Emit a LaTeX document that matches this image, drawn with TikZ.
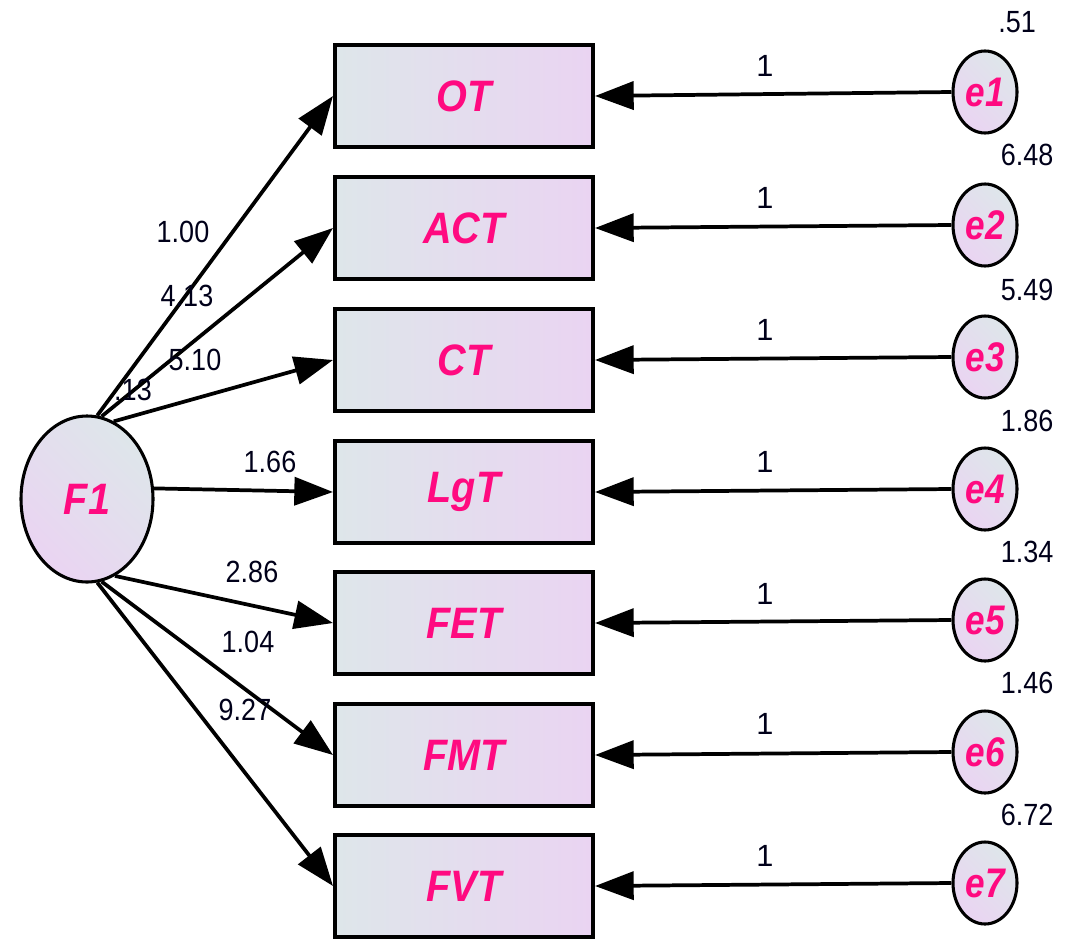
\documentclass[tikz,border=0pt]{standalone}
\usepackage{fontspec}
\setmainfont{Liberation Sans}
\usetikzlibrary{arrows.meta,shapes.geometric}
\definecolor{lbl}{HTML}{FF0A80}
\definecolor{fillL}{HTML}{DEE6EA}
\definecolor{fillR}{HTML}{EAD4F2}
\tikzset{
  obs/.style={draw=black, line width=3pt, minimum width=193.5pt, minimum height=76pt,
    left color=fillL, right color=fillR, inner sep=0pt,
    font=\fontsize{33}{33}\selectfont\bfseries\itshape, text=lbl},
  latent/.style={ellipse, draw=black, line width=2.3pt, minimum width=99pt, minimum height=124.5pt,
    inner sep=0pt, shading=axis, left color=fillL, right color=fillR, shading angle=-45,
    font=\fontsize{33}{33}\selectfont\bfseries\itshape, text=lbl},
  err/.style={ellipse, draw=black, line width=2.3pt, minimum width=48pt, minimum height=61.5pt,
    inner sep=0pt, shading=axis, left color=fillL, right color=fillR, shading angle=-45,
    font=\fontsize{31}{31}\selectfont\bfseries\itshape, text=lbl},
  num/.style={inner sep=0pt, font=\fontsize{23}{23}\selectfont, text=black!90!blue},
  arr/.style={line width=2.8pt, -{Triangle[length=29pt,width=21pt]}}
}
\begin{document}
\begin{tikzpicture}[x=0.75pt,y=-0.75pt]
\useasboundingbox (0,0) rectangle (1077,939);
% observed variables
\node[obs] (OT)  at (464,96)  {\scalebox{0.9}[1]{OT}};
\node[obs] (ACT) at (464,228) {\scalebox{0.9}[1]{ACT}};
\node[obs] (CT)  at (464,360) {\scalebox{0.9}[1]{CT}};
\node[obs] (LgT) at (464,492) {\scalebox{0.9}[1]{LgT}};
\node[obs] (FET) at (464,623) {\scalebox{0.9}[1]{FET}};
\node[obs] (FMT) at (464,755) {\scalebox{0.9}[1]{FMT}};
\node[obs] (FVT) at (464,886) {\scalebox{0.9}[1]{FVT}};
% latent
\node[latent] (F1) at (87,499) {\scalebox{0.9}[1]{F1}};
% errors
\node[err] (e1) at (985,92)  {\scalebox{0.85}[1]{e1}};
\node[err] (e2) at (985,225) {\scalebox{0.85}[1]{e2}};
\node[err] (e3) at (985,357) {\scalebox{0.85}[1]{e3}};
\node[err] (e4) at (985,489) {\scalebox{0.85}[1]{e4}};
\node[err] (e5) at (985,620) {\scalebox{0.85}[1]{e5}};
\node[err] (e6) at (985,752) {\scalebox{0.85}[1]{e6}};
\node[err] (e7) at (985,883) {\scalebox{0.85}[1]{e7}};
% loadings
\draw[arr] (F1.83)  -- (OT.west);
\draw[arr] (F1.80)  -- (ACT.west);
\draw[arr] (F1.71)  -- (CT.west);
\draw[arr] (F1.9)   -- (LgT.west);
\draw[arr] (F1.-70) -- (FET.west);
\draw[arr] (F1.-80) -- (FMT.west);
\draw[arr] (F1.-83) -- (FVT.west);
% error paths
\foreach \e/\o in {e1/OT,e2/ACT,e3/CT,e4/LgT,e5/FET,e6/FMT,e7/FVT}
  \draw[arr] (\e.west) -- (\o.east);
% loading labels
\node[num] (l1) at (183,232) {\scalebox{0.88}[1]{1.00}};
\node[num] (l2) at (187,296) {\scalebox{0.88}[1]{4.13}};
\node[num] (l3) at (195,360) {\scalebox{0.88}[1]{5.10}};
\node[num] (v0) at (133,390) {\scalebox{0.88}[1]{.13}};
\node[num] (l4) at (270,462) {\scalebox{0.88}[1]{1.66}};
\node[num] (l5) at (252,572) {\scalebox{0.88}[1]{2.86}};
\node[num] (l6) at (248,642) {\scalebox{0.88}[1]{1.04}};
\node[num] (l7) at (245,710) {\scalebox{0.88}[1]{9.27}};
% error weights
\foreach \y [count=\i] in {66,198,330,462,594,724,856}
  \node[num] (w\i) at (765,\y) {1};
% variances
\node[num] (v1) at (1017,22)  {\scalebox{0.88}[1]{.51}};
\node[num] (v2) at (1027,155) {\scalebox{0.88}[1]{6.48}};
\node[num] (v3) at (1027,290) {\scalebox{0.88}[1]{5.49}};
\node[num] (v4) at (1027,421) {\scalebox{0.88}[1]{1.86}};
\node[num] (v5) at (1027,552) {\scalebox{0.88}[1]{1.34}};
\node[num] (v6) at (1027,683) {\scalebox{0.88}[1]{1.46}};
\node[num] (v7) at (1027,815) {\scalebox{0.88}[1]{6.72}};
\end{tikzpicture}
\end{document}
